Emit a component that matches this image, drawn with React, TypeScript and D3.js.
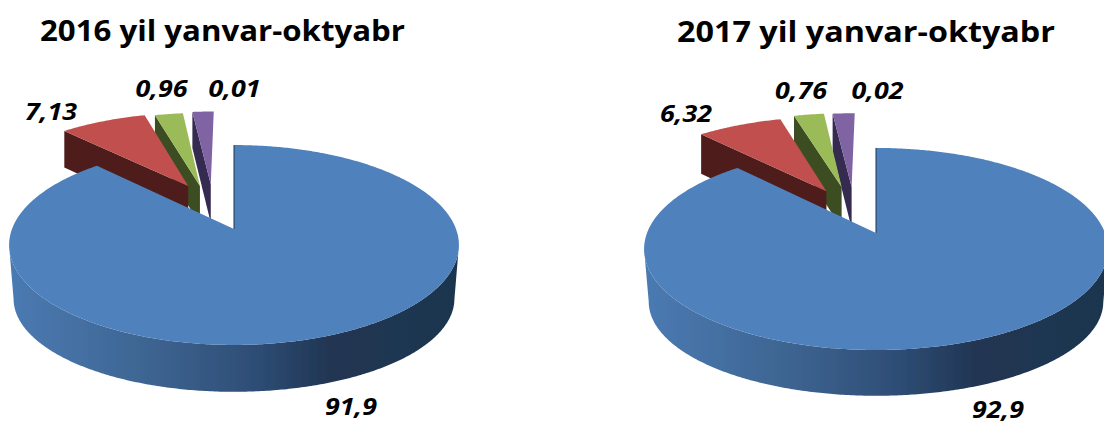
import React from "react";
import * as d3 from "d3";

const sliceNames = ["a", "b", "c", "d"];
const titles = ["2016 yil yanvar-oktyabr", "2017 yil yanvar-oktyabr"];
const labels2016 = ["91,9", "7,13", "0,96", "0,01"];
const labels2017 = ["92,9", "6,32", "0,76", "0,02"];
// Arc shares as actually drawn in the picture (percent of the circle)
const drawn2016 = [87.9, 7.7, 2.5, 1.9];
const drawn2017 = [88.2, 7.3, 2.6, 1.9];
// Slice pull-out in the pie plane (pie radius = 1)
const shift2016 = [[0, 0], [-0.222, 0.475], [-0.165, 0.475], [-0.113, 0.495]];
const shift2017 = [[0, 0], [-0.232, 0.453], [-0.162, 0.505], [-0.115, 0.505]];
const topColors = ["#4f81bd", "#c0504d", "#9bbb59", "#8064a2"];
const wallColors = ["#1f3550", "#4f1e1c", "#3e4d22", "#352a50"];

type Cfg = {
  id: string; x: number; y: number; a: number; b: number; k: number; d: number;
  drawn: number[]; shift: number[][]; labels: string[];
  title: [number, number, number]; labelPos: number[][];
  low: [number, number, number, number];
};

const charts: Cfg[] = [
  { id: "p1", x: 234, y: 229, a: 222, b: 97.4, k: 0.16, d: 40, drawn: drawn2016, shift: shift2016, labels: labels2016,
    title: [40, 41, 365], labelPos: [[351, 415], [51, 120], [161.5, 97], [234.5, 97]],
    low: [0.98, 243, 54, 0.93] },
  { id: "p2", x: 876, y: 233, a: 229, b: 98.5, k: 0.158, d: 43, drawn: drawn2017, shift: shift2017, labels: labels2017,
    title: [677, 42, 378], labelPos: [[998, 418], [686, 122], [801, 99], [877.5, 99]],
    low: [0.98, 247, 53, 0.93] },
];

const line = d3.line<[number, number]>();

function Pie({ c, index }: { c: Cfg; index: number }) {
  const arcs = d3.pie<number>().sort(null)(c.drawn);
  const proj = (U: number, V: number): [number, number] => {
    const w = 1 + c.k * V;
    return [c.x + (c.a * U) / w, c.y - (c.b * V) / w];
  };
  const down = (U: number, V: number): [number, number] => {
    const [x, y] = proj(U, V);
    const w = 1 + c.k * V;
    return [x, y + c.d / Math.sqrt(w)];
  };
  const lowRim = (U: number, V: number): [number, number] => {
    const [x, y] = proj(U, V);
    const [sx, y0, dy, sy] = c.low;
    return [c.x + (x - c.x) * sx, y0 + dy + (y - y0) * sy];
  };
  const shapes = arcs.map((arc, i) => {
    const [sx, sy] = c.shift[i];
    const n = Math.max(2, Math.ceil((arc.endAngle - arc.startAngle) / 0.01));
    const angs = d3.range(n + 1).map((j) => arc.startAngle + ((arc.endAngle - arc.startAngle) * j) / n);
    const rim = angs.map((t) => [sx + Math.sin(t), sy + Math.cos(t)] as [number, number]);
    const top = line([proj(sx, sy), ...rim.map(([u, v]) => proj(u, v))]) + "Z";
    let wall: string;
    if (i === 0) {
      const front = rim.filter(([, v]) => v <= -c.k);
      wall = line([...front.map(([u, v]) => proj(u, v)), ...front.map(([u, v]) => lowRim(u, v)).reverse()]) + "Z";
    } else {
      const [u, v] = rim[0];
      wall = line([proj(sx, sy), proj(u, v), down(u, v), down(sx, sy)]) + "Z";
    }
    return { top, wall, edge: line([proj(sx, sy), proj(rim[0][0], rim[0][1])]) as string };
  });
  const order = [3, 2, 1, 0];
  return (
    <g>
      <defs>
        <linearGradient id={c.id + "g"} gradientUnits="userSpaceOnUse" x1={c.x - c.a} x2={c.x + c.a} y1={0} y2={0}>
          <stop offset="0" stopColor="#4a7ab2" />
          <stop offset="0.3" stopColor="#3e6592" />
          <stop offset="0.55" stopColor="#2e4d75" />
          <stop offset="0.72" stopColor="#203552" />
          <stop offset="1" stopColor="#1f3450" />
        </linearGradient>
      </defs>
      <g filter="url(#soft)">
        {order.map((i) => {
          const s = shapes[i];
          return (
            <g key={sliceNames[i]}>
              <path d={s.wall} fill={i === 0 ? `url(#${c.id}g)` : wallColors[i]} />
              <path d={s.top} fill={topColors[i]} />
              {i === 0 && <path d={s.edge} stroke={wallColors[0]} strokeWidth={1} fill="none" />}
            </g>
          );
        })}
      </g>
      <text x={c.title[0]} y={c.title[1]} textLength={c.title[2]} lengthAdjust="spacingAndGlyphs"
        fontFamily="'Open Sans'" fontWeight={700} fontSize={29} fill="#000">
        {titles[index]}
      </text>
      {c.labels.map((t, i) => (
        <text key={t} x={c.labelPos[i][0]} y={c.labelPos[i][1]} textAnchor="middle"
          textLength={52} lengthAdjust="spacingAndGlyphs"
          fontFamily="'Open Sans'" fontWeight={700} fontStyle="italic" fontSize={23} fill="#000">
          {t}
        </text>
      ))}
    </g>
  );
}

export default function App() {
  return (
    <svg width={1104} height={424} style={{ position: "absolute", left: 0, top: 0 }}>
      <defs>
        <filter id="soft" x="-5%" y="-5%" width="110%" height="110%">
          <feGaussianBlur stdDeviation={0.5} />
        </filter>
      </defs>
      <rect width={1104} height={424} fill="#fff" />
      {charts.map((c, i) => (
        <Pie key={c.id} c={c} index={i} />
      ))}
    </svg>
  );
}
